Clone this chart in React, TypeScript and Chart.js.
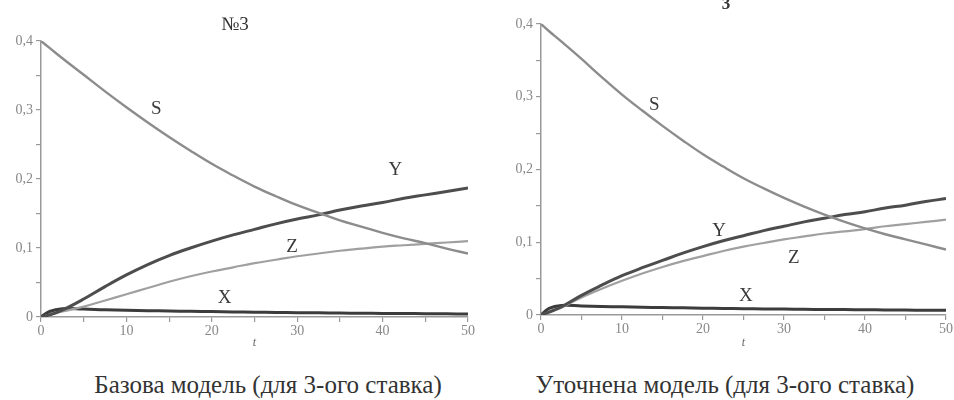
import React, { useEffect, useRef } from "react";
import { Chart, registerables } from "chart.js";

Chart.register(...registerables);

// time points (t)
const T = [0, 1, 2.5, 5, 7.5, 10, 12.5, 15, 17.5, 20, 22.5, 25, 27.5, 30, 32.5, 35, 37.5, 40, 42.5, 45, 47.5, 50];

// Базова модель
const LEFT_S = [0.400, 0.390, 0.375, 0.351, 0.327, 0.304, 0.282, 0.261, 0.241, 0.222, 0.205, 0.189, 0.175, 0.162, 0.151, 0.140, 0.131, 0.122, 0.114, 0.107, 0.099, 0.092];
const LEFT_Y = [0, 0.003, 0.010, 0.026, 0.044, 0.061, 0.076, 0.089, 0.100, 0.110, 0.119, 0.127, 0.135, 0.142, 0.148, 0.155, 0.161, 0.166, 0.172, 0.177, 0.182, 0.187];
const LEFT_Z = [0, 0.003, 0.008, 0.015, 0.024, 0.033, 0.042, 0.051, 0.059, 0.066, 0.072, 0.078, 0.083, 0.088, 0.092, 0.096, 0.099, 0.102, 0.104, 0.106, 0.108, 0.110];
const LEFT_X = [0, 0.008, 0.012, 0.0115, 0.0105, 0.0098, 0.0092, 0.0087, 0.0082, 0.0078, 0.0074, 0.0070, 0.0066, 0.0063, 0.0060, 0.0057, 0.0054, 0.0052, 0.0050, 0.0048, 0.0046, 0.0044];

// Уточнена модель
const RIGHT_S = [0.400, 0.390, 0.376, 0.352, 0.327, 0.303, 0.281, 0.260, 0.240, 0.221, 0.204, 0.188, 0.174, 0.161, 0.149, 0.138, 0.128, 0.119, 0.111, 0.104, 0.097, 0.090];
const RIGHT_Y = [0, 0.004, 0.011, 0.027, 0.041, 0.054, 0.065, 0.075, 0.085, 0.094, 0.102, 0.109, 0.116, 0.122, 0.128, 0.133, 0.138, 0.142, 0.147, 0.151, 0.156, 0.160];
const RIGHT_Z = [0, 0.004, 0.010, 0.024, 0.036, 0.047, 0.057, 0.066, 0.074, 0.081, 0.088, 0.094, 0.099, 0.104, 0.108, 0.112, 0.115, 0.118, 0.122, 0.125, 0.128, 0.131];
const RIGHT_X = [0, 0.009, 0.013, 0.0125, 0.0118, 0.0112, 0.0107, 0.0102, 0.0098, 0.0094, 0.0090, 0.0087, 0.0084, 0.0081, 0.0078, 0.0076, 0.0074, 0.0072, 0.0070, 0.0068, 0.0066, 0.0065];

// curve labels (text, t, value)
const CURVE_NAMES = ["S", "Y", "Z", "X"];
const LEFT_LABEL_T = [13.5, 41.5, 29.4, 21.5];
const LEFT_LABEL_V = [0.302, 0.213, 0.102, 0.027];
const RIGHT_LABEL_T = [14.0, 22.0, 31.2, 25.3];
const RIGHT_LABEL_V = [0.288, 0.116, 0.079, 0.026];

const Y_MIN = 0;
const Y_MAX = 0.4;
const Y_STEP = 0.05;
const X_MIN = 0;
const X_MAX = 50;
const X_STEP = 5;

const TITLES = ["№3", "3"];
const CAPTIONS = ["Базова модель (для 3-ого ставка)", "Уточнена модель (для 3-ого ставка)"];
const X_TITLE = "t";

const SERIF = "'Liberation Serif', 'DejaVu Serif', serif";

const COLORS = { S: "#8c8c8c", Y: "#4d4d4d", Z: "#a0a0a0", X: "#3c3c3c" };
const WIDTHS = { S: 2.4, Y: 3, Z: 2.2, X: 3 };

type PanelProps = {
  S: number[]; Y: number[]; Z: number[]; X: number[];
  labelT: number[]; labelV: number[];
  yWidth: number; xHeight: number; padTop: number; padRight: number;
  width: number; height: number; left: number;
};

function Panel(p: PanelProps) {
  const ref = useRef<HTMLCanvasElement | null>(null);
  useEffect(() => {
    if (!ref.current) return;
    const mk = (vals: number[]) => T.map((t, i) => ({ x: t, y: vals[i] }));
    const series: [string, number[]][] = [["S", p.S], ["Y", p.Y], ["Z", p.Z], ["X", p.X]];
    const labelPlugin = {
      id: "curveLabels",
      afterDatasetsDraw(chart: any) {
        const ctx = chart.ctx;
        const xs = chart.scales.x;
        const ys = chart.scales.y;
        ctx.save();
        ctx.font = `19px ${SERIF}`;
        ctx.fillStyle = "#3a3a3a";
        ctx.textAlign = "center";
        ctx.textBaseline = "middle";
        CURVE_NAMES.forEach((n, i) => {
          ctx.fillText(n, xs.getPixelForValue(p.labelT[i]), ys.getPixelForValue(p.labelV[i]));
        });
        ctx.restore();
      },
    };
    const chart = new Chart(ref.current, {
      type: "line",
      data: {
        datasets: series.map(([name, vals]) => ({
          label: name,
          data: mk(vals),
          borderColor: (COLORS as any)[name],
          borderWidth: (WIDTHS as any)[name],
          pointRadius: 0,
          tension: 0.4,
          fill: false,
        })),
      },
      options: {
        animation: false,
        responsive: false,
        maintainAspectRatio: false,
        layout: { padding: { top: p.padTop, right: p.padRight, left: 0, bottom: 0 } },
        plugins: { legend: { display: false }, tooltip: { enabled: false }, title: { display: false } },
        scales: {
          x: {
            type: "linear",
            min: X_MIN,
            max: X_MAX,
            afterFit: (s: any) => { s.height = p.xHeight; },
            ticks: {
              stepSize: X_STEP,
              autoSkip: false,
              maxRotation: 0,
              padding: 1,
              color: "#888",
              font: { family: SERIF, size: 14 },
              callback: (v: any) => (Number(v) % 10 === 0 ? String(v) : ""),
            },
            grid: { display: true, drawOnChartArea: false, drawTicks: true, tickLength: 5, color: "#999", lineWidth: 1.2 },
            border: { display: true, color: "#999", width: 1.5 },
            title: { display: true, text: X_TITLE, color: "#666", font: { family: SERIF, size: 12, style: "italic" }, padding: { top: 0, bottom: 4 } },
          },
          y: {
            type: "linear",
            min: Y_MIN,
            max: Y_MAX,
            afterFit: (s: any) => { s.width = p.yWidth; },
            ticks: {
              stepSize: Y_STEP,
              autoSkip: false,
              padding: 3,
              color: "#888",
              font: { family: SERIF, size: 14 },
              callback: (v: any) => {
                const n = Number(v);
                const k = Math.round(n * 10);
                if (Math.abs(n * 10 - k) > 1e-6) return "";
                return k === 0 ? "0" : (k / 10).toFixed(1).replace(".", ",");
              },
            },
            grid: { display: true, drawOnChartArea: false, drawTicks: true, tickLength: 5, color: "#999", lineWidth: 1.2 },
            border: { display: true, color: "#999", width: 1.5 },
          },
        },
      } as any,
      plugins: [labelPlugin],
    });
    return () => chart.destroy();
  }, []);
  return (
    <canvas
      ref={ref}
      width={p.width}
      height={p.height}
      style={{ position: "absolute", left: p.left, top: 0, width: p.width, height: p.height }}
    />
  );
}

export default function App() {
  const textBase: React.CSSProperties = { position: "absolute", fontFamily: SERIF, color: "#333", textAlign: "center", whiteSpace: "nowrap" };
  return (
    <div style={{ position: "absolute", left: 0, top: 0, width: 954, height: 400, overflow: "hidden", background: "#fff" }}>
      <Panel S={LEFT_S} Y={LEFT_Y} Z={LEFT_Z} X={LEFT_X} labelT={LEFT_LABEL_T} labelV={LEFT_LABEL_V}
        yWidth={41} xHeight={37} padTop={41} padRight={12} width={480} height={354} left={0} />
      <Panel S={RIGHT_S} Y={RIGHT_Y} Z={RIGHT_Z} X={RIGHT_X} labelT={RIGHT_LABEL_T} labelV={RIGHT_LABEL_V}
        yWidth={61} xHeight={39} padTop={24} padRight={6} width={474} height={354} left={480} />
      <div style={{ ...textBase, left: 185, width: 100, top: 13, fontSize: 19, lineHeight: "22px" }}>{TITLES[0]}</div>
      <div style={{ ...textBase, left: 686, width: 80, top: -6, fontSize: 17, lineHeight: "20px", fontWeight: "bold" }}>{TITLES[1]}</div>
      <div style={{ ...textBase, left: 8, width: 520, top: 371, fontSize: 25, lineHeight: "28px" }}>{CAPTIONS[0]}</div>
      <div style={{ ...textBase, left: 505, width: 440, top: 371, fontSize: 25, lineHeight: "28px" }}>{CAPTIONS[1]}</div>
    </div>
  );
}
